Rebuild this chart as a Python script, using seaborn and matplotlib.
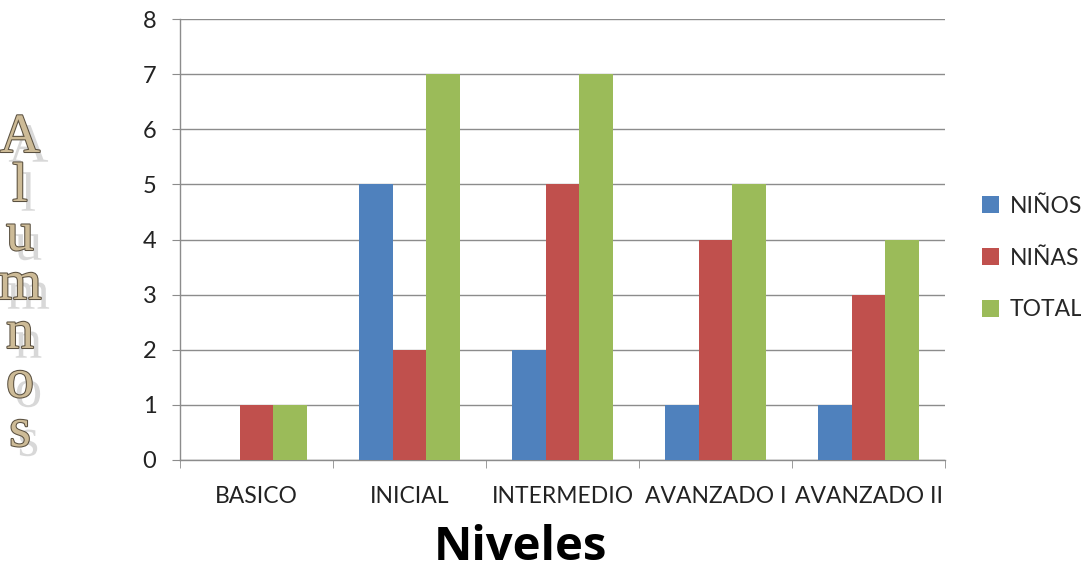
import matplotlib
matplotlib.use("Agg")
import matplotlib.pyplot as plt
import seaborn as sns
import pandas as pd
import numpy as np
import matplotlib.patheffects as pe

categories = ["BASICO", "INICIAL", "INTERMEDIO", "AVANZADO I", "AVANZADO II"]
series_names = ["NIÑOS", "NIÑAS", "TOTAL"]
ninos = [0, 5, 2, 1, 1]
ninas = [1, 2, 5, 4, 3]
total = [1, 7, 7, 5, 4]
colors = ["#4F81BD", "#C0504D", "#9BBB59"]
y_ticks = [0, 1, 2, 3, 4, 5, 6, 7, 8]

rows = []
for name, vals in zip(series_names, [ninos, ninas, total]):
    for c, v in zip(categories, vals):
        rows.append({"Nivel": c, "Serie": name, "Valor": v})
df = pd.DataFrame(rows)

sns.set_style("white")
plt.rcParams['font.family'] = ['Lato', 'DejaVu Sans']

fig = plt.figure(figsize=(10.81, 5.69), dpi=100)
ax = fig.add_axes([180/1081, 1-460/569, (945-180)/1081, (460-19)/569])

sns.barplot(data=df, x="Nivel", y="Valor", hue="Serie", order=categories,
            hue_order=series_names, palette=colors, saturation=1, width=0.66,
            ax=ax, zorder=3, linewidth=0)

ax.set_ylim(0, 8)
ax.set_xlim(-0.5, len(categories) - 0.5)
ax.set_yticks(y_ticks)
ax.yaxis.grid(True, color="#8c8c8c", linewidth=1)
ax.set_axisbelow(True)
for s in ["top", "right"]:
    ax.spines[s].set_visible(False)
for s in ["left", "bottom"]:
    ax.spines[s].set_color("#8c8c8c")
    ax.spines[s].set_linewidth(1)

ax.tick_params(axis="y", which="major", direction="out", length=6, color="#8c8c8c",
               labelsize=17, pad=11, left=True, labelcolor="#222222")
ax.tick_params(axis="x", which="major", length=0, labelsize=16.5, pad=19, labelcolor="#222222")
ax.set_xticks(np.arange(-0.5, len(categories), 1.0), minor=True)
ax.tick_params(axis="x", which="minor", direction="out", length=6, color="#8c8c8c", bottom=True)

ax.set_xlabel("")
ax.set_ylabel("")

fig.text(520/1081, 1-547/569, "Niveles", ha="center", va="center",
         fontsize=34, fontweight="bold", family=["Open Sans", "DejaVu Sans"], color="black")

# Stacked WordArt-like y label
letters = list("Alumnos")
y0, step = 138, 49
for i, ch in enumerate(letters):
    yy = y0 + i * step
    fig.text(20/1081, 1-yy/569, ch, ha="center", va="center", fontsize=40,
             family=["Liberation Serif", "DejaVu Serif"], color="#CDBB97",
             path_effects=[pe.SimplePatchShadow(offset=(6, -7), shadow_rgbFace="#cfcfcf", alpha=0.8),
                           pe.withStroke(linewidth=1.5, foreground="#5a5040")])

handles, labels = ax.get_legend_handles_labels()
ax.legend(handles, labels, loc="center left", bbox_to_anchor=(982/1081, 1-258/569),
          bbox_transform=fig.transFigure, borderpad=0, borderaxespad=0,
          frameon=False, fontsize=16.5, labelspacing=1.35, handlelength=0.75,
          handleheight=0.75, handletextpad=0.45)

fig.savefig("out.png", dpi=100)
